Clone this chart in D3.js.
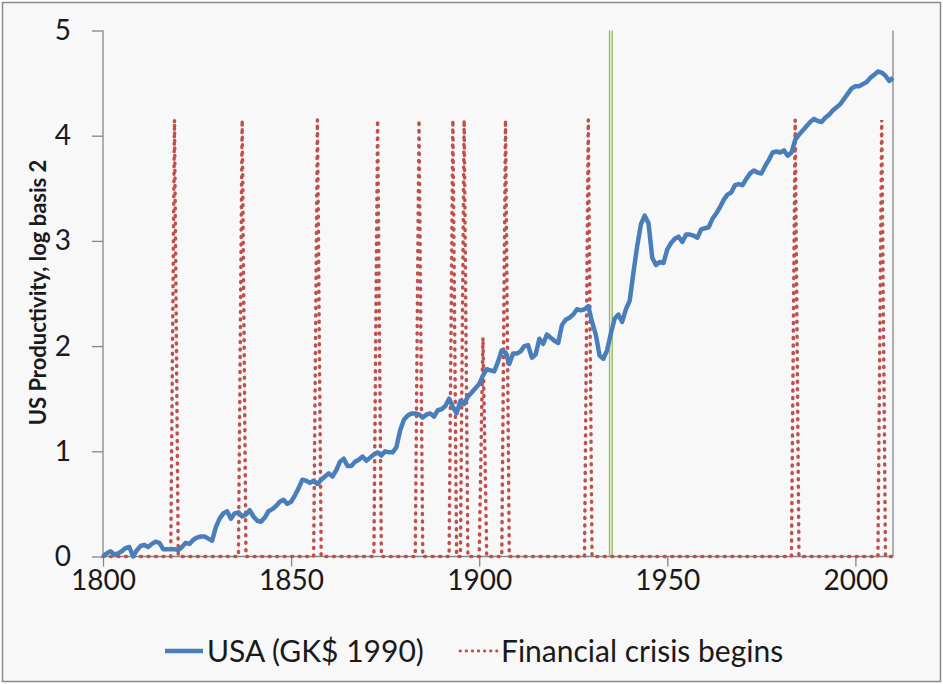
<!DOCTYPE html>
<html>
<head>
<meta charset="utf-8">
<script src="https://cdn.jsdelivr.net/npm/d3@7"></script>
<style>
  body { margin: 0; background: #ffffff; }
  svg { display: block; }
</style>
</head>
<body>
<div id="chart"></div>
<script>
// US productivity (log2), one value per year 1800-2010
var years = d3.range(1800, 2011);
var usaValues = [
  0.00, 0.03, 0.05, 0.02, 0.03, 0.05, 0.08, 0.09, 0.00, 0.06,
  0.10, 0.11, 0.09, 0.12, 0.14, 0.13, 0.07, 0.07, 0.07, 0.07,
  0.06, 0.09, 0.13, 0.12, 0.16, 0.18, 0.19, 0.19, 0.17, 0.15,
  0.28, 0.36, 0.41, 0.43, 0.36, 0.41, 0.42, 0.38, 0.40, 0.44,
  0.38, 0.34, 0.33, 0.37, 0.43, 0.45, 0.48, 0.52, 0.54, 0.50,
  0.52, 0.58, 0.65, 0.73, 0.72, 0.70, 0.72, 0.69, 0.73, 0.76,
  0.79, 0.76, 0.82, 0.90, 0.93, 0.86, 0.86, 0.90, 0.92, 0.95,
  0.91, 0.94, 0.97, 0.99, 0.96, 1.00, 0.99, 0.99, 1.04, 1.20,
  1.30, 1.34, 1.36, 1.36, 1.35, 1.32, 1.35, 1.36, 1.33, 1.39,
  1.40, 1.43, 1.50, 1.42, 1.36, 1.48, 1.45, 1.52, 1.56, 1.60,
  1.64, 1.72, 1.78, 1.77, 1.76, 1.85, 1.96, 1.94, 1.83, 1.93,
  1.93, 1.95, 2.00, 2.01, 1.89, 1.92, 2.07, 2.02, 2.11, 2.08,
  2.05, 2.03, 2.20, 2.25, 2.27, 2.30, 2.35, 2.34, 2.35, 2.38,
  2.23, 2.11, 1.91, 1.88, 1.96, 2.12, 2.26, 2.30, 2.23, 2.35,
  2.43, 2.70, 2.95, 3.16, 3.24, 3.17, 2.84, 2.77, 2.80, 2.79,
  2.92, 2.98, 3.02, 3.04, 2.99, 3.06, 3.06, 3.05, 3.03, 3.11,
  3.12, 3.13, 3.21, 3.26, 3.32, 3.39, 3.44, 3.46, 3.53, 3.54,
  3.53, 3.59, 3.64, 3.67, 3.65, 3.64, 3.71, 3.77, 3.84, 3.85,
  3.84, 3.86, 3.81, 3.84, 3.96, 4.01, 4.05, 4.09, 4.13, 4.16,
  4.14, 4.13, 4.17, 4.20, 4.24, 4.27, 4.30, 4.35, 4.40, 4.45,
  4.47, 4.47, 4.49, 4.51, 4.55, 4.58, 4.61, 4.60, 4.57, 4.52,
  4.55
];

// financial crisis markers (the series is zero in every other year)
var crisisYears = [1819, 1837, 1857, 1873, 1884, 1893, 1896, 1901, 1907, 1929, 1984, 2007];
var crisisPeaks = [4.15, 4.15, 4.15, 4.15, 4.15, 4.15, 4.15, 2.08, 4.15, 4.15, 4.15, 4.15];

// green marker line
var markerYear = 1935;
var markerTop = 5;

var xTicks = [1800, 1850, 1900, 1950, 2000];
var yTicks = [0, 1, 2, 3, 4, 5];

var seriesNames = ['USA (GK$ 1990)', 'Financial crisis begins'];
var yTitle = 'US Productivity, log basis 2';

var width = 943, height = 684;
var margin = { top: 30.5, right: 50, bottom: 127.5, left: 103 };

var blue = '#4a7ebb', red = '#c0504d', green = '#9bbb59', axisColor = '#868686';
var font = 'Lato, "Open Sans", sans-serif';

var usa = years.map(function(y, i) { return { year: y, value: usaValues[i] }; });
var crisis = years.map(function(y) {
  var k = crisisYears.indexOf(y);
  return { year: y, value: k < 0 ? 0 : crisisPeaks[k] };
});

var x = d3.scaleLinear().domain([1800, 2010]).range([margin.left, width - margin.right]);
var y = d3.scaleLinear().domain([0, 5]).range([height - margin.bottom, margin.top]);

var svg = d3.select('#chart').append('svg')
  .attr('width', width)
  .attr('height', height);

svg.append('rect')
  .attr('x', 2.5).attr('y', 2.5)
  .attr('width', width - 5).attr('height', height - 5)
  .attr('fill', '#f8f8f8')
  .attr('stroke', '#8a8a8a')
  .attr('stroke-width', 1.5);

// axes
var yAxis = svg.append('g')
  .attr('transform', 'translate(' + x(1800) + ',0)')
  .call(d3.axisLeft(y).tickValues(yTicks).tickSize(11).tickPadding(21).tickFormat(d3.format('d')));

var xAxis = svg.append('g')
  .attr('transform', 'translate(0,' + y(0) + ')')
  .call(d3.axisBottom(x).tickValues(xTicks).tickSize(10).tickPadding(4).tickFormat(d3.format('d')));

[yAxis, xAxis].forEach(function(g) {
  g.select('.domain').attr('stroke', axisColor).attr('stroke-width', 1.3);
  g.selectAll('.tick line').attr('stroke', axisColor).attr('stroke-width', 1.3);
  g.selectAll('.tick text')
    .attr('fill', '#1a1a1a')
    .attr('font-family', font)
    .attr('font-size', '28px');
});
xAxis.select('.domain').attr('d', 'M' + x(1800) + ',0H' + x(2010));
yAxis.select('.domain').attr('d', 'M0,' + y(0) + 'V' + y(5));

// right side axis line
svg.append('line')
  .attr('x1', x(2010)).attr('x2', x(2010))
  .attr('y1', y(5)).attr('y2', y(0))
  .attr('stroke', axisColor)
  .attr('stroke-width', 1.3);

svg.append('text')
  .attr('transform', 'translate(46,292.5) rotate(-90)')
  .attr('text-anchor', 'middle')
  .attr('font-family', font)
  .attr('font-weight', 'bold')
  .attr('font-size', '22px')
  .attr('fill', '#1a1a1a')
  .text(yTitle);

var line = d3.line()
  .x(function(d) { return x(d.year); })
  .y(function(d) { return y(d.value); });

// green marker (double line)
[-1.3, 1.3].forEach(function(off) {
  svg.append('line')
    .attr('x1', x(markerYear) + off).attr('x2', x(markerYear) + off)
    .attr('y1', y(0)).attr('y2', y(markerTop))
    .attr('stroke', green)
    .attr('stroke-width', 1.4);
});

svg.append('path')
  .datum(crisis)
  .attr('d', line)
  .attr('fill', 'none')
  .attr('stroke', red)
  .attr('stroke-width', 3.5)
  .attr('stroke-linecap', 'round')
  .attr('stroke-dasharray', '1 6.5');

svg.append('path')
  .datum(usa)
  .attr('d', line)
  .attr('fill', 'none')
  .attr('stroke', blue)
  .attr('stroke-width', 4.5)
  .attr('stroke-linejoin', 'round');

// legend
var legendY = 651;
var legend = svg.append('g');
legend.append('line')
  .attr('x1', 165).attr('x2', 203).attr('y1', legendY).attr('y2', legendY)
  .attr('stroke', blue).attr('stroke-width', 4.5);
legend.append('text')
  .attr('x', 207).attr('y', legendY + 11)
  .attr('font-family', font).attr('font-size', '30px').attr('fill', '#1a1a1a')
  .text(seriesNames[0]);
legend.append('line')
  .attr('x1', 460).attr('x2', 497).attr('y1', legendY).attr('y2', legendY)
  .attr('stroke', red).attr('stroke-width', 2.8)
  .attr('stroke-linecap', 'round')
  .attr('stroke-dasharray', '0.5 5.6');
legend.append('text')
  .attr('x', 501).attr('y', legendY + 11)
  .attr('font-family', font).attr('font-size', '30px').attr('fill', '#1a1a1a')
  .text(seriesNames[1]);
</script>
</body>
</html>
